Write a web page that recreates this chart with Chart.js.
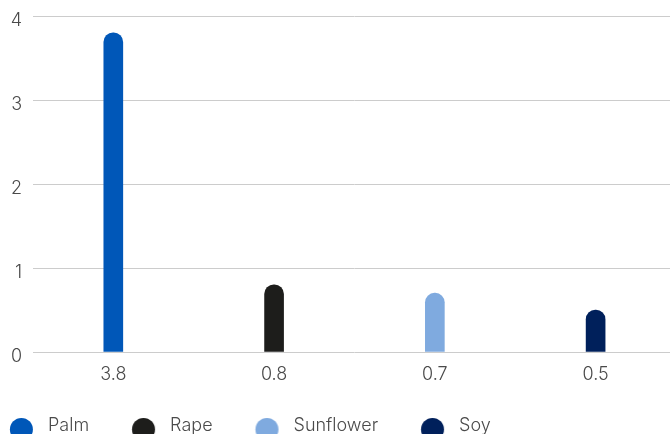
<!DOCTYPE html>
<html>
<head>
<meta charset="utf-8">
<script src="https://cdn.jsdelivr.net/npm/chart.js@4/dist/chart.umd.min.js"></script>
<style>
html, body { margin:0; padding:0; overflow:hidden; background:#fff; }
#wrap { width:676px; height:445px; position:relative; }
</style>
</head>
<body>
<div id="wrap"><canvas id="c"></canvas></div>
<script>
const categories = ["3.8", "0.8", "0.7", "0.5"];
const seriesNames = ["Palm", "Rape", "Sunflower", "Soy"];
const seriesValues = [3.8, 0.8, 0.7, 0.5];
const seriesColors = ["#0057B8", "#1D1D1B", "#7FAADF", "#00205B"];
const yTicks = [0, 1, 2, 3, 4];

const FONT = "Inter, Lato, sans-serif";

function dotImage(color) {
  const cv = document.createElement('canvas');
  cv.width = 39; cv.height = 30;
  const g = cv.getContext('2d');
  g.fillStyle = color;
  g.beginPath();
  g.arc(21.4, 18.5, 11.5, 0, Math.PI * 2);
  g.fill();
  return cv;
}

const datasets = seriesNames.map((name, i) => ({
  label: name,
  data: categories.map((c, j) => (j === i ? seriesValues[i] : null)),
  backgroundColor: seriesColors[i],
  borderRadius: 10,
  borderSkipped: 'bottom',
  barThickness: 19
}));

const legendShift = {
  id: 'legendShift',
  afterLayout(chart) { chart.legend.left -= 33; }
};

Chart.defaults.font.family = FONT;
Chart.defaults.font.weight = 300;
Chart.defaults.color = "#4a4a4a";

new Chart(document.getElementById('c'), {
  type: 'bar',
  data: { labels: categories, datasets },
  plugins: [legendShift],
  options: {
    responsive: true,
    maintainAspectRatio: false,
    animation: false,
    skipNull: true,
    layout: { padding: { top: 10, left: 0, right: 0, bottom: 0 } },
    plugins: {
      tooltip: { enabled: false },
      legend: {
        position: 'bottom',
        align: 'start',
        labels: {
          usePointStyle: true,
          pointStyleWidth: 39,
          boxHeight: 18,
          padding: 33,
          font: { size: 18, weight: 300, family: FONT },
          color: '#4a4a4a',
          generateLabels(chart) {
            const items = Chart.defaults.plugins.legend.labels.generateLabels(chart);
            items.forEach((it, i) => { it.pointStyle = dotImage(seriesColors[i]); });
            return items;
          }
        }
      }
    },
    scales: {
      x: {
        grid: { display: false },
        border: { display: false },
        ticks: { font: { size: 18, weight: 300 }, padding: 4, color: '#4a4a4a' },
        afterFit(axis) { axis.height = 32; }
      },
      y: {
        min: 0, max: 4,
        afterBuildTicks: (axis) => { axis.ticks = yTicks.map(v => ({ value: v })); },
        grid: { color: '#cccccc', drawTicks: false },
        border: { display: false },
        ticks: { font: { size: 18, weight: 300, lineHeight: 0.578 }, padding: 10.8, labelOffset: 5, color: '#4a4a4a' }
      }
    }
  }
});
</script>
</body>
</html>
